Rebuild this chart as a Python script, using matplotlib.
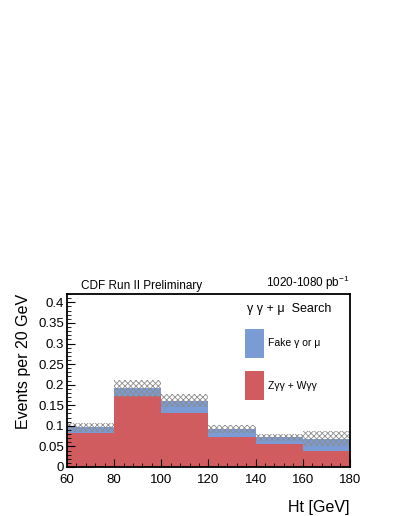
import matplotlib.pyplot as plt
from matplotlib.ticker import MultipleLocator
import numpy as np

plt.rcParams['font.family'] = ['Liberation Sans', 'DejaVu Sans']
plt.rcParams['hatch.linewidth'] = 0.6

# Ht bins (GeV) and stacked backgrounds
bin_edges = [60, 80, 100, 120, 140, 160, 180]
zgg_wgg = [0.083, 0.173, 0.130, 0.0735, 0.056, 0.039]
fake = [0.013, 0.018, 0.031, 0.018, 0.016, 0.030]
syst_err = [0.011, 0.020, 0.016, 0.010, 0.008, 0.018]

red = '#d05c5f'
blue = '#7b9bd5'

left = np.array(bin_edges[:-1])
width = np.diff(bin_edges)
red_v = np.array(zgg_wgg)
blue_v = np.array(fake)
total = red_v + blue_v
err = np.array(syst_err)

fig = plt.figure(figsize=(3.99, 5.16), dpi=100)
ax = fig.add_axes([0.168, 0.095, 0.709, 0.335])

ax.bar(left, red_v, width=width, align='edge', color=red, linewidth=0)
ax.bar(left, blue_v, width=width, bottom=red_v, align='edge', color=blue, linewidth=0)
ax.bar(left, 2 * err, width=width, bottom=total - err, align='edge',
       fill=False, hatch='xxxxxx', edgecolor='#8c8c8c', linewidth=0)

ax.set_xlim(60, 180)
ax.set_ylim(0, 0.42)
ax.xaxis.set_major_locator(MultipleLocator(20))
ax.xaxis.set_minor_locator(MultipleLocator(4))
ax.yaxis.set_minor_locator(MultipleLocator(0.01))
ax.set_yticks([0, 0.05, 0.1, 0.15, 0.2, 0.25, 0.3, 0.35, 0.4])
ax.set_yticklabels(['0', '0.05', '0.1', '0.15', '0.2', '0.25', '0.3', '0.35', '0.4'])
ax.tick_params(which='both', direction='in', labelsize=9.5, pad=2)
ax.tick_params(which='major', length=6, width=0.8)
ax.tick_params(which='minor', length=3, width=0.6)
ax.tick_params(axis='x', pad=5)
for s in ax.spines.values():
    s.set_linewidth(1.3)

ax.set_ylabel('Events per 20 GeV', fontsize=11.5, loc='top', labelpad=5)
ax.set_xlabel('Ht [GeV]', fontsize=11.5, loc='right', labelpad=10)

ax.text(0.05, 1.01, 'CDF Run II Preliminary', transform=ax.transAxes,
        fontsize=8.5, ha='left', va='bottom')
ax.text(1.0, 1.01, r'1020-1080 pb$^{\mathregular{-1}}$', transform=ax.transAxes,
        fontsize=8.5, ha='right', va='bottom')

# legend drawn by hand to match the ROOT layout
ax.text(0.635, 0.915, 'γ γ + μ  Search', transform=ax.transAxes,
        fontsize=9, ha='left', va='center')
ax.add_patch(plt.Rectangle((0.628, 0.63), 0.067, 0.17, transform=ax.transAxes,
                           color=blue, linewidth=0))
ax.text(0.71, 0.715, 'Fake γ or μ', transform=ax.transAxes,
        fontsize=7.5, ha='left', va='center')
ax.add_patch(plt.Rectangle((0.628, 0.385), 0.067, 0.17, transform=ax.transAxes,
                           color=red, linewidth=0))
ax.text(0.71, 0.47, 'Zγγ + Wγγ', transform=ax.transAxes,
        fontsize=7.5, ha='left', va='center')

fig.savefig('out.png', dpi=100)
